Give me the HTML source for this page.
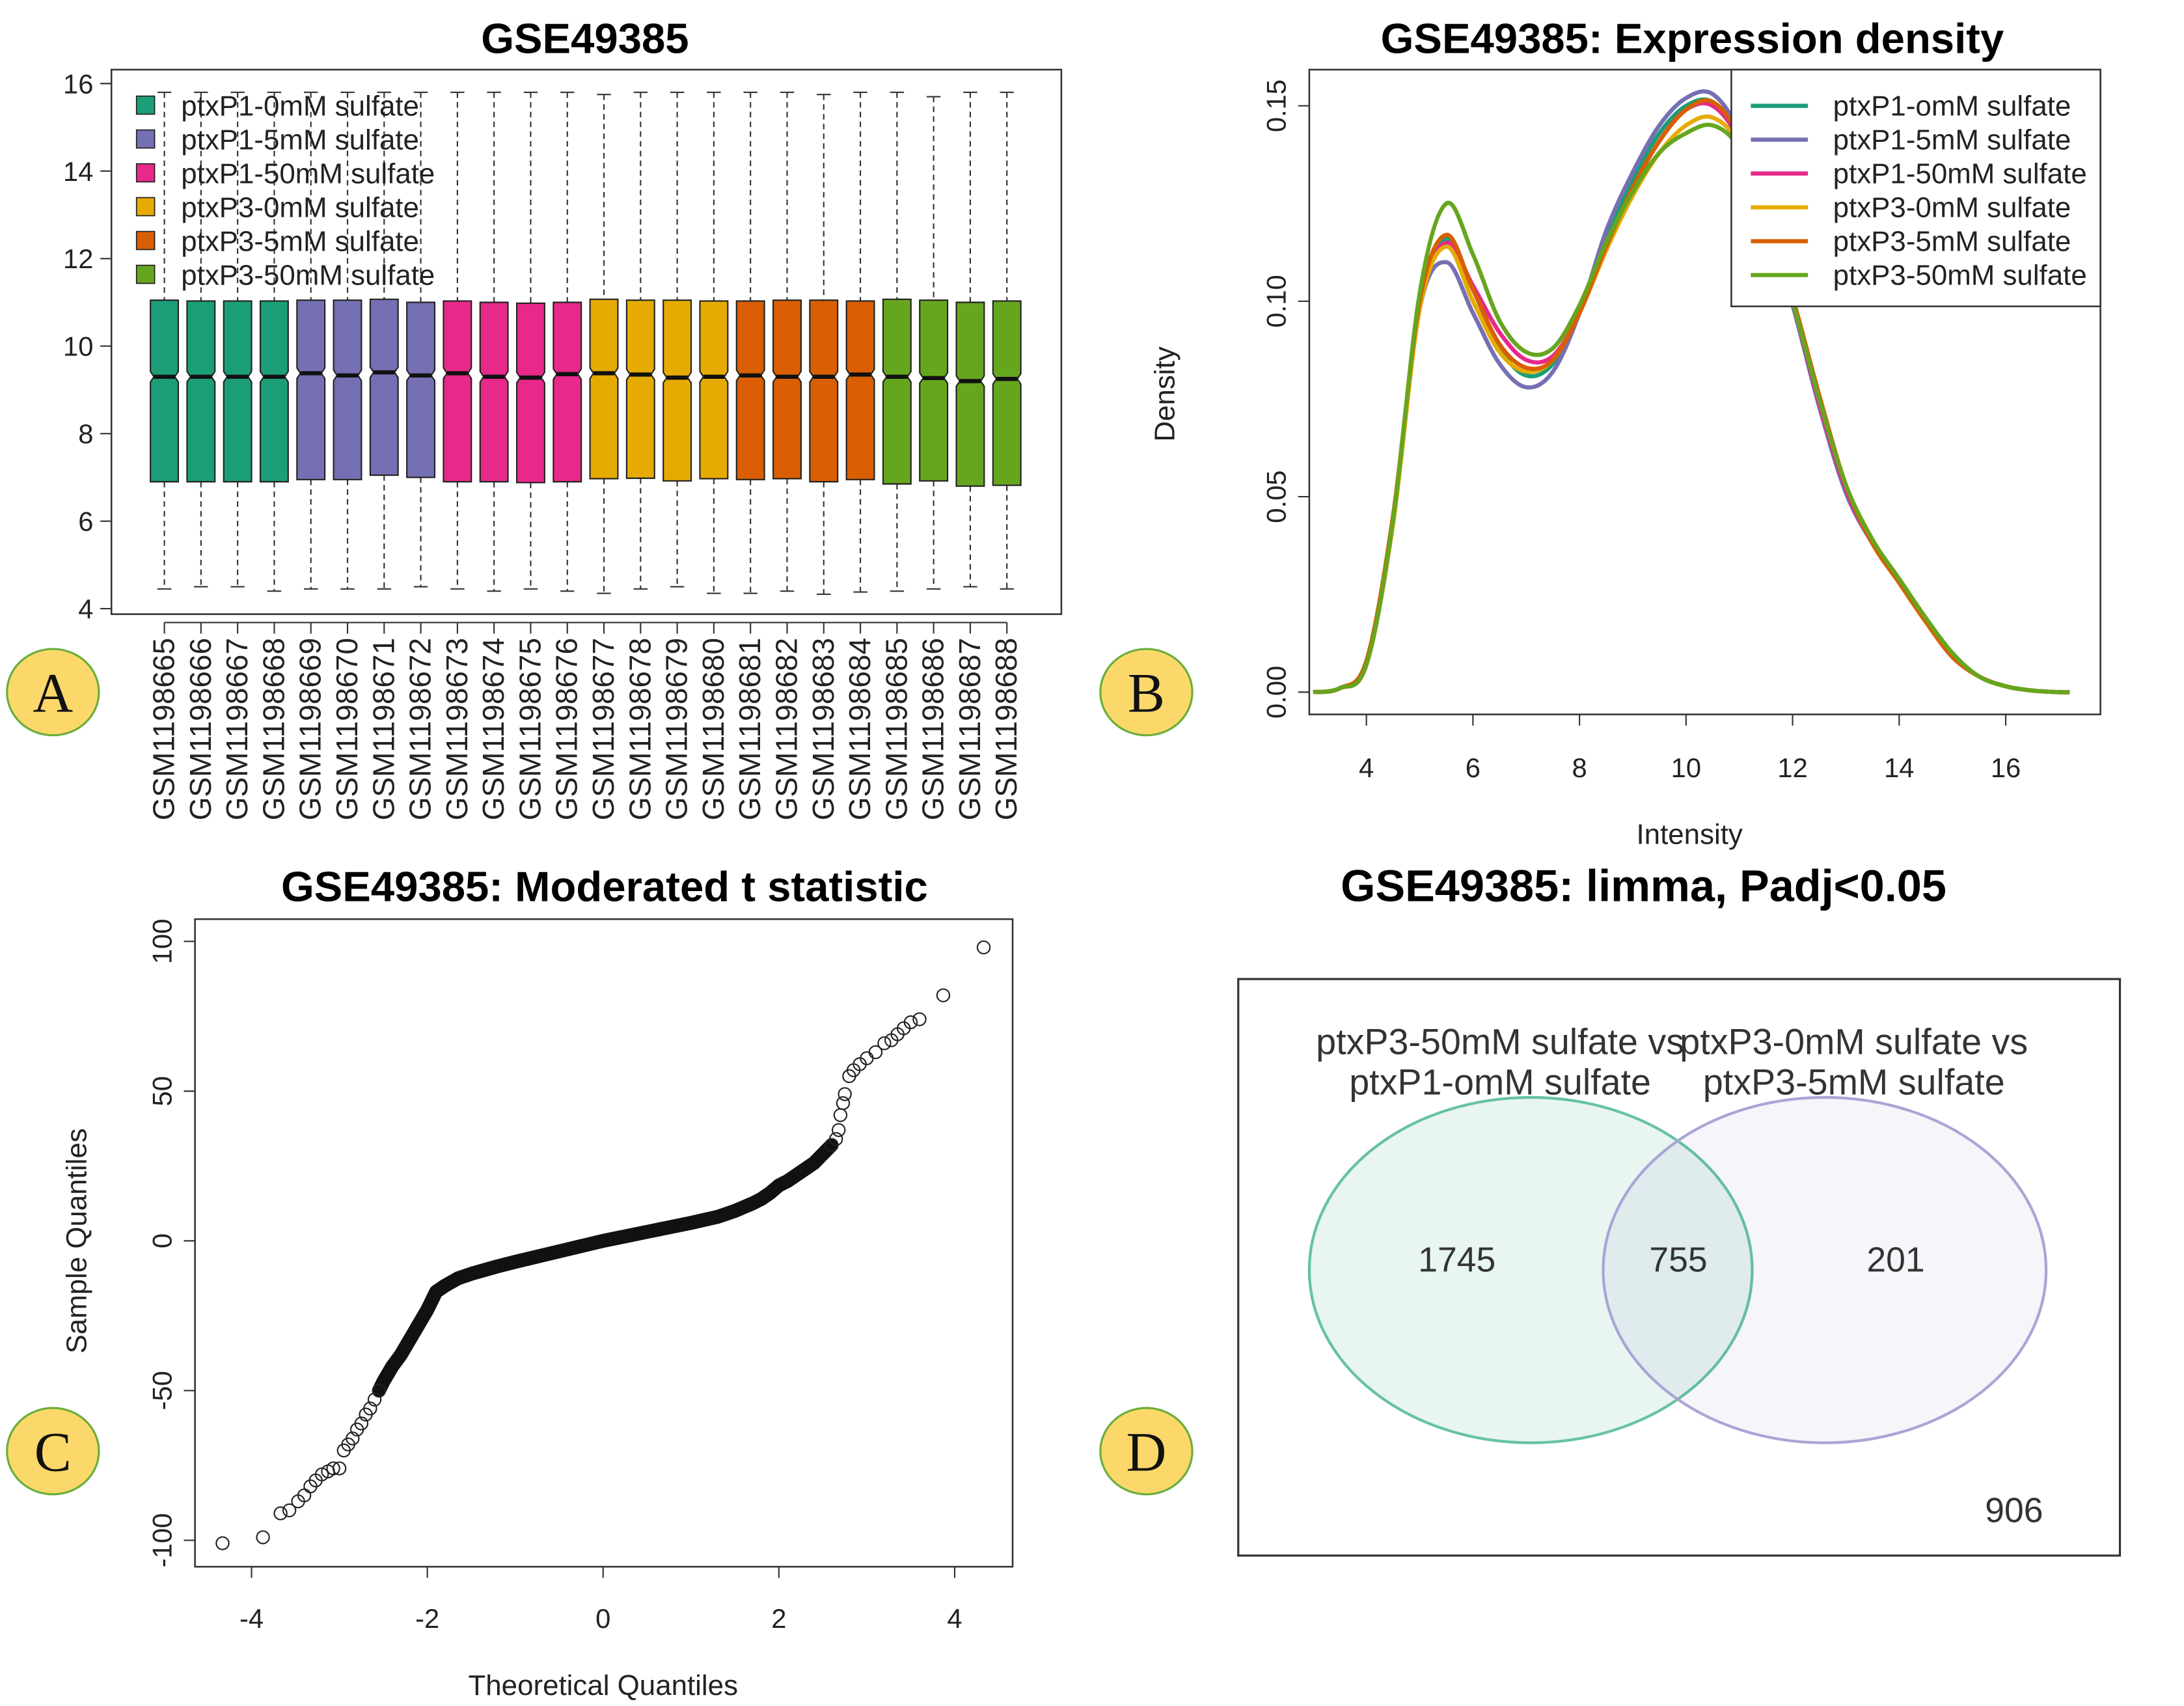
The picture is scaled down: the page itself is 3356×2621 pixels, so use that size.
<!DOCTYPE html>
<html><head><meta charset="utf-8"><style>
html,body{margin:0;padding:0;background:#fff}
svg{display:block;font-family:"Liberation Sans",sans-serif}
</style></head><body>
<svg id="fig" width="3356" height="2621" viewBox="0 0 1568 1225" preserveAspectRatio="none" xmlns="http://www.w3.org/2000/svg">
<rect x="0" y="0" width="1568" height="1225" fill="#fff"/>
<g id="pa"></g>
<g id="pb"></g>
<g id="pc"></g>
<g id="pd"></g>
</svg>
<script>
const groupNames=["ptxP1-omM sulfate","ptxP1-5mM sulfate","ptxP1-50mM sulfate","ptxP3-0mM sulfate","ptxP3-5mM sulfate","ptxP3-50mM sulfate"];
const groupNamesA=["ptxP1-0mM sulfate","ptxP1-5mM sulfate","ptxP1-50mM sulfate","ptxP3-0mM sulfate","ptxP3-5mM sulfate","ptxP3-50mM sulfate"];
const groupColors=["#1b9e77","#7570b3","#e7298a","#e6ab02","#d95f02","#66a61e"];
const samples=["GSM1198665","GSM1198666","GSM1198667","GSM1198668","GSM1198669","GSM1198670","GSM1198671","GSM1198672","GSM1198673","GSM1198674","GSM1198675","GSM1198676","GSM1198677","GSM1198678","GSM1198679","GSM1198680","GSM1198681","GSM1198682","GSM1198683","GSM1198684","GSM1198685","GSM1198686","GSM1198687","GSM1198688"];
const sampleGroup=[0,0,0,0,1,1,1,1,2,2,2,2,3,3,3,3,4,4,4,4,5,5,5,5];
const boxLow=[4.45,4.5,4.5,4.4,4.45,4.45,4.45,4.5,4.45,4.4,4.45,4.4,4.35,4.45,4.5,4.35,4.35,4.4,4.33,4.38,4.4,4.45,4.5,4.45];
const boxQ1=[6.9,6.9,6.9,6.9,6.95,6.95,7.05,7.0,6.9,6.9,6.88,6.9,6.97,6.98,6.92,6.97,6.95,6.97,6.9,6.95,6.85,6.92,6.8,6.82];
const boxMed=[9.3,9.3,9.3,9.3,9.38,9.33,9.4,9.33,9.38,9.3,9.28,9.36,9.38,9.35,9.28,9.3,9.33,9.3,9.3,9.35,9.3,9.27,9.2,9.25];
const boxQ3=[11.05,11.03,11.03,11.03,11.05,11.05,11.07,11.0,11.03,11.0,10.98,11.0,11.07,11.05,11.05,11.03,11.03,11.05,11.05,11.03,11.07,11.05,11.0,11.03];
const boxHigh=[15.8,15.8,15.8,15.8,15.8,15.8,15.8,15.8,15.8,15.8,15.8,15.8,15.75,15.8,15.8,15.8,15.8,15.8,15.75,15.8,15.8,15.7,15.8,15.8];
const aTicks=[4,6,8,10,12,14,16];

const densX=[3,3.5,4,4.5,5,5.5,6,6.5,7,7.5,8,8.5,9,9.5,10,10.5,11,11.5,12,12.5,13,13.5,14,14.5,15,15.5,16,16.5,17,17.2];
const dens1=[0,0.001,0.008,0.045,0.1,0.116,0.103,0.088,0.081,0.084,0.097,0.116,0.131,0.143,0.15,0.151,0.142,0.122,0.1,0.074,0.052,0.038,0.028,0.018,0.009,0.004,0.0015,0.0004,0,0];
const dens2=[0,0.001,0.007,0.043,0.098,0.11,0.097,0.084,0.078,0.082,0.097,0.118,0.133,0.145,0.152,0.153,0.143,0.121,0.099,0.073,0.051,0.038,0.028,0.018,0.009,0.004,0.0015,0.0004,0,0];
const dens3=[0,0.001,0.007,0.044,0.099,0.115,0.104,0.092,0.085,0.086,0.097,0.114,0.129,0.141,0.149,0.15,0.141,0.121,0.1,0.074,0.052,0.038,0.028,0.018,0.009,0.004,0.0015,0.0004,0,0];
const dens4=[0,0.001,0.007,0.043,0.098,0.114,0.1,0.087,0.082,0.085,0.097,0.113,0.127,0.138,0.145,0.147,0.14,0.121,0.1,0.075,0.053,0.039,0.028,0.018,0.009,0.004,0.0015,0.0004,0,0];
const dens5=[0,0.001,0.008,0.045,0.1,0.117,0.103,0.089,0.083,0.085,0.097,0.114,0.129,0.141,0.149,0.151,0.142,0.122,0.101,0.076,0.053,0.038,0.028,0.018,0.009,0.004,0.0015,0.0004,0,0];
const dens6=[0,0.001,0.007,0.044,0.102,0.125,0.112,0.095,0.087,0.088,0.099,0.115,0.128,0.138,0.143,0.145,0.139,0.121,0.1,0.075,0.053,0.039,0.029,0.019,0.01,0.004,0.0015,0.0004,0,0];
const bXTicks=[4,6,8,10,12,14,16];
const bYTicks=[0,0.05,0.1,0.15];
const bYLabels=["0.00","0.05","0.10","0.15"];

const qqSparseT=[-4.33,-3.87,-3.67,-3.57,-3.47,-3.4,-3.33,-3.27,-3.2,-3.13,-3.07,-3.0,-2.95,-2.9,-2.85,-2.8,-2.75,-2.7,-2.65,-2.6,-2.55,2.6,2.65,2.68,2.7,2.73,2.75,2.8,2.85,2.92,3.0,3.1,3.2,3.28,3.35,3.42,3.5,3.6,3.87,4.33];
const qqSparseS=[-101,-99,-91,-90,-87,-85,-82,-80,-78,-77,-76,-76,-70,-68,-66,-63,-61,-58,-56,-53,-50,32,34,37,42,46,49,55,57,59,61,63,66,67,69,71,73,74,82,98];
const qqDenseT=[-2.55,-2.5,-2.4,-2.3,-2.2,-2.1,-2.0,-1.95,-1.9,-1.8,-1.65,-1.5,-1.2,-1,-0.5,0,0.5,1,1.3,1.5,1.7,1.8,1.9,2,2.1,2.2,2.3,2.4,2.5,2.6];
const qqDenseS=[-50,-47,-42,-38,-33,-28,-23,-20,-17,-15,-12.5,-11,-8.5,-7,-3.5,0,3,6,8,10,12.5,14,16,18.5,20,22,24,26,29,32];
const cXTicks=[-4,-2,0,2,4];
const cYTicks=[-100,-50,0,50,100];

const vennCounts=["1745","755","201","906"];

const NS="http://www.w3.org/2000/svg";
function mk(parent,tag,attrs,text){const e=document.createElementNS(NS,tag);for(const k in attrs)e.setAttribute(k,attrs[k]);if(text!==undefined)e.textContent=text;parent.appendChild(e);return e;}
const TF=30.5, AF=19.5, LF=20.5;

// ---------- Panel A ----------
const pa=document.getElementById('pa');
const ayS=v=>60+(16-v)*31.42;
const axS=i=>118+i*26.3;
let t=mk(pa,'text',{x:420,y:38,'text-anchor':'middle','font-size':TF,'font-weight':'bold'},'GSE49385');


samples.forEach((s,i)=>{
  const cx=axS(i),hw=10,col=groupColors[sampleGroup[i]];
  const g=mk(pa,'g',{});
  
  
  mk(g,'line',{x1:cx,x2:cx,y1:ayS(boxHigh[i]),y2:ayS(boxQ3[i]),stroke:'#333','stroke-width':1,'stroke-dasharray':'4,3'});
  mk(g,'line',{x1:cx,x2:cx,y1:ayS(boxQ1[i]),y2:ayS(boxLow[i]),stroke:'#333','stroke-width':1,'stroke-dasharray':'4,3'});
  mk(g,'line',{x1:cx-5,x2:cx+5,y1:ayS(boxHigh[i]),y2:ayS(boxHigh[i]),stroke:'#333','stroke-width':1});
  mk(g,'line',{x1:cx-5,x2:cx+5,y1:ayS(boxLow[i]),y2:ayS(boxLow[i]),stroke:'#333','stroke-width':1});
  const m=boxMed[i],n=0.12,nw=hw*0.75;
  const pts=[[cx-hw,ayS(boxQ3[i])],[cx+hw,ayS(boxQ3[i])],[cx+hw,ayS(m+n)],[cx+nw,ayS(m)],[cx+hw,ayS(m-n)],[cx+hw,ayS(boxQ1[i])],[cx-hw,ayS(boxQ1[i])],[cx-hw,ayS(m-n)],[cx-nw,ayS(m)],[cx-hw,ayS(m+n)]];
  mk(g,'polygon',{points:pts.map(p=>p.join(',')).join(' '),fill:col,stroke:'#222','stroke-width':1});
  mk(g,'line',{x1:cx-nw,x2:cx+nw,y1:ayS(m),y2:ayS(m),stroke:'#111','stroke-width':3});
  mk(pa,'line',{x1:cx,x2:cx,y1:447,y2:455,stroke:'#333','stroke-width':1});
  const tl=mk(pa,'text',{x:0,y:0,transform:`translate(${cx+7},458) rotate(-90)`,'text-anchor':'end','font-size':21.5,fill:'#222'},s);
  
  
});
mk(pa,'line',{x1:axS(0),x2:axS(23),y1:447,y2:447,stroke:'#333','stroke-width':1});
aTicks.forEach(v=>{
  mk(pa,'line',{x1:72,x2:80,y1:ayS(v),y2:ayS(v),stroke:'#333','stroke-width':1});
  const tl=mk(pa,'text',{x:67,y:ayS(v)+7,'text-anchor':'end','font-size':AF,fill:'#222'},String(v));
  
  
});
mk(pa,'line',{x1:80,x2:80,y1:ayS(16),y2:ayS(4),stroke:'#333','stroke-width':1});
let fr=mk(pa,'rect',{x:80,y:50,width:682,height:391,fill:'none',stroke:'#333','stroke-width':1.2});


groupNamesA.forEach((nm,k)=>{
  const y=76+k*24.3;
  const le=mk(pa,'g',{});
  
  
  mk(le,'rect',{x:98,y:y-7,width:13,height:13,fill:groupColors[k],stroke:'#222','stroke-width':0.8});
  mk(le,'text',{x:130,y:y+7,'font-size':LF,fill:'#222'},nm);
});

// ---------- Panel B ----------
const pb=document.getElementById('pb');
const bx=v=>981+(v-4)*38.25;
const by=v=>497-v*2806.7;
t=mk(pb,'text',{x:1215,y:38,'text-anchor':'middle','font-size':TF,'font-weight':'bold'},'GSE49385: Expression density');


const densAll=[dens1,dens2,dens3,dens4,dens5,dens6];
function smoothPath(xs,ys){
  const P=xs.map((x,i)=>[bx(x),by(ys[i])]);
  let d=`M${P[0][0]},${P[0][1]}`;
  for(let i=0;i<P.length-1;i++){
    const p0=P[Math.max(0,i-1)],p1=P[i],p2=P[i+1],p3=P[Math.min(P.length-1,i+2)];
    const c1=[p1[0]+(p2[0]-p0[0])/6,p1[1]+(p2[1]-p0[1])/6];
    const c2=[p2[0]-(p3[0]-p1[0])/6,p2[1]-(p3[1]-p1[1])/6];
    d+=` C${c1[0]},${c1[1]} ${c2[0]},${c2[1]} ${p2[0]},${p2[1]}`;
  }
  return d;
}
densAll.forEach((ys,k)=>{
  const p=mk(pb,'path',{d:smoothPath(densX,ys),fill:'none',stroke:groupColors[k],'stroke-width':3});
  
  
});
fr=mk(pb,'rect',{x:940,y:50,width:568,height:463,fill:'none',stroke:'#333','stroke-width':1.2});


bXTicks.forEach(v=>{
  mk(pb,'line',{x1:bx(v),x2:bx(v),y1:513,y2:521,stroke:'#333','stroke-width':1});
  const tl=mk(pb,'text',{x:bx(v),y:558,'text-anchor':'middle','font-size':AF,fill:'#222'},String(v));
  
  
});
bYTicks.forEach((v,i)=>{
  mk(pb,'line',{x1:932,x2:940,y1:by(v),y2:by(v),stroke:'#333','stroke-width':1});
  const tl=mk(pb,'text',{x:0,y:0,transform:`translate(923,${by(v)}) rotate(-90)`,'text-anchor':'middle','font-size':AF,fill:'#222'},bYLabels[i]);
  
  
});
t=mk(pb,'text',{x:0,y:0,transform:'translate(843,283) rotate(-90)','text-anchor':'middle','font-size':LF,fill:'#222'},'Density');


t=mk(pb,'text',{x:1213,y:606,'text-anchor':'middle','font-size':LF,fill:'#222'},'Intensity');


const lg=mk(pb,'g',{});


mk(lg,'rect',{x:1243,y:50,width:265,height:170,fill:'#fff',stroke:'#333','stroke-width':1.2});
groupNames.forEach((nm,k)=>{
  const y=76+k*24.3;
  const le=mk(lg,'g',{});
  
  
  mk(le,'line',{x1:1257,x2:1298,y1:y,y2:y,stroke:groupColors[k],'stroke-width':3});
  mk(le,'text',{x:1316,y:y+7,'font-size':LF,fill:'#222'},nm);
});

// ---------- Panel C ----------
const pc=document.getElementById('pc');
const cx_=v=>433+v*63.1;
const cy_=v=>891-v*2.15;
t=mk(pc,'text',{x:434,y:647,'text-anchor':'middle','font-size':TF,'font-weight':'bold'},'GSE49385: Moderated t statistic');


let band=mk(pc,'polyline',{points:qqDenseT.map((x,i)=>cx_(x)+','+cy_(qqDenseS[i])).join(' '),fill:'none',stroke:'#111','stroke-width':10,'stroke-linejoin':'round','stroke-linecap':'round'});


qqSparseT.forEach((x,i)=>{
  const c=mk(pc,'circle',{cx:cx_(x),cy:cy_(qqSparseS[i]),r:4.5,fill:'none',stroke:'#222','stroke-width':1});
  
  
});
fr=mk(pc,'rect',{x:140,y:660,width:587,height:465,fill:'none',stroke:'#333','stroke-width':1.2});


cXTicks.forEach(v=>{
  mk(pc,'line',{x1:cx_(v),x2:cx_(v),y1:1125,y2:1133,stroke:'#333','stroke-width':1});
  const tl=mk(pc,'text',{x:cx_(v),y:1169,'text-anchor':'middle','font-size':AF,fill:'#222'},String(v));
  
  
});
cYTicks.forEach(v=>{
  mk(pc,'line',{x1:132,x2:140,y1:cy_(v),y2:cy_(v),stroke:'#333','stroke-width':1});
  const tl=mk(pc,'text',{x:0,y:0,transform:`translate(123,${cy_(v)}) rotate(-90)`,'text-anchor':'middle','font-size':AF,fill:'#222'},String(v));
  
  
});
t=mk(pc,'text',{x:0,y:0,transform:'translate(62,891) rotate(-90)','text-anchor':'middle','font-size':LF,fill:'#222'},'Sample Quantiles');


t=mk(pc,'text',{x:433,y:1217,'text-anchor':'middle','font-size':LF,fill:'#222'},'Theoretical Quantiles');



// ---------- Panel D ----------
const pd=document.getElementById('pd');
t=mk(pd,'text',{x:1180,y:647,'text-anchor':'middle','font-size':TF+1.5,'font-weight':'bold'},'GSE49385: limma, Padj<0.05');


fr=mk(pd,'rect',{x:889,y:703,width:633,height:414,fill:'none',stroke:'#333','stroke-width':1.5});


let e1=mk(pd,'ellipse',{cx:1099,cy:912,rx:159,ry:124,fill:'#1b9e77','fill-opacity':0.1,stroke:'#66c2a5','stroke-width':2});


let e2=mk(pd,'ellipse',{cx:1310,cy:912,rx:159,ry:124,fill:'#7570b3','fill-opacity':0.07,stroke:'#a9a5d6','stroke-width':2});


[["ptxP3-50mM sulfate vs",1077,757],["ptxP1-omM sulfate",1077,786],["ptxP3-0mM sulfate vs",1331,757],["ptxP3-5mM sulfate",1331,786]].forEach(a=>{
  const l=mk(pd,'text',{x:a[1],y:a[2],'text-anchor':'middle','font-size':26,fill:'#333'},a[0]);
  
  
});
[[1046,913],[1205,913],[1361,913],[1446,1093]].forEach((p,i)=>{
  const l=mk(pd,'text',{x:p[0],y:p[1],'text-anchor':'middle','font-size':25,fill:'#333'},vennCounts[i]);
  
  
});

// ---------- panel letters ----------
const svg=document.getElementById('fig');
[["A",38,497],["B",823,497],["C",38,1042],["D",823,1042]].forEach(a=>{
  const g=mk(svg,'g',{});
  
  
  mk(g,'ellipse',{cx:a[1],cy:a[2],rx:33,ry:31,fill:'#fcd86a',stroke:'#6aae3c','stroke-width':1.5});
  mk(g,'text',{x:a[1],y:a[2]+14,'text-anchor':'middle','font-size':40,'font-family':'"Liberation Serif",serif',fill:'#111'},a[0]);
});
</script>
</body></html>
